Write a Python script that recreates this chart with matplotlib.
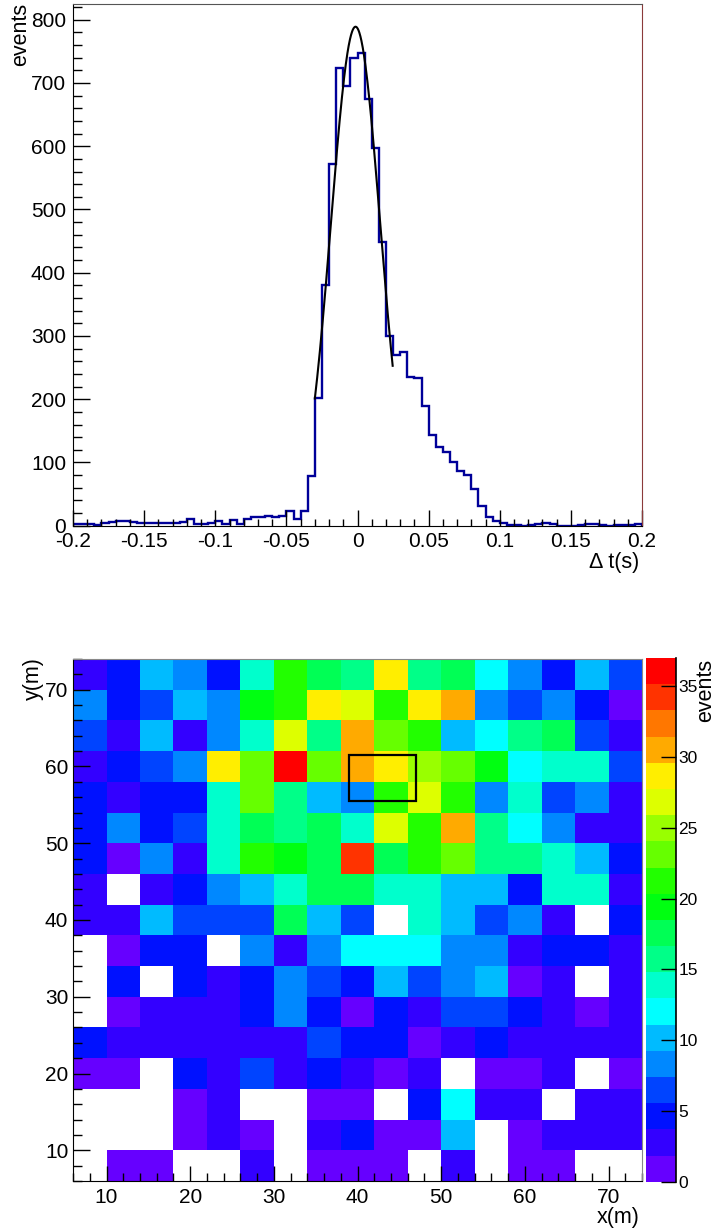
import matplotlib
matplotlib.use('Agg')
import matplotlib.pyplot as plt
import numpy as np
from matplotlib.colors import ListedColormap, BoundaryNorm
from matplotlib.ticker import MultipleLocator, FuncFormatter
from matplotlib.patches import Rectangle

plt.rcParams['font.family'] = ['Liberation Sans', 'DejaVu Sans']
plt.rcParams['axes.unicode_minus'] = False

#-------------------------------
#   top: time difference histogram
#-------------------------------
dt_lo, dt_hi, n_bins = -0.2, 0.2, 80
dt_counts = [2, 2, 2, 1, 5, 6, 8, 8, 6, 4,
             4, 4, 4, 5, 5, 6, 11, 2, 3, 5,
             8, 3, 9, 3, 10, 13, 14, 16, 13, 15,
             24, 10, 24, 78, 202, 380, 572, 723, 695, 740,
             748, 674, 598, 449, 300, 270, 274, 235, 234, 189,
             144, 124, 117, 100, 87, 80, 58, 31, 13, 8,
             4, 1, 1, 0, 1, 3, 4, 2, 0, 0,
             0, 1, 2, 2, 1, 0, 1, 1, 1, 3]
# gaussian fit (amplitude, mean, sigma) and fit range
fit_amp, fit_mean, fit_sigma = 789.0, -0.0014, 0.0173
fit_lo, fit_hi = -0.030, 0.0247

#-------------------------------
#   bottom: event map, rows listed from top (y=70-74) to bottom (y=6-10)
#-------------------------------
x_lo, x_hi, cell = 6, 74, 4
map_counts = [
    [3, 5, 10, 8, 5, 14, 21, 18, 16, 29, 16, 18, 12, 8, 5, 10, 7],
    [8, 5, 7, 10, 8, 19, 21, 29, 27, 21, 29, 30, 8, 7, 8, 5, 1],
    [7, 3, 10, 3, 8, 14, 27, 16, 30, 23, 21, 10, 12, 16, 18, 7, 3],
    [3, 5, 7, 8, 29, 23, 36, 23, 30, 29, 25, 23, 19, 12, 14, 14, 7],
    [5, 3, 5, 5, 14, 23, 16, 10, 8, 21, 27, 21, 8, 14, 7, 8, 3],
    [5, 8, 5, 7, 14, 18, 16, 18, 14, 27, 21, 30, 16, 12, 8, 3, 3],
    [5, 1, 8, 3, 14, 21, 19, 18, 34, 18, 21, 23, 16, 16, 14, 10, 5],
    [3, 0, 3, 5, 8, 10, 14, 18, 18, 14, 14, 10, 10, 5, 14, 14, 3],
    [3, 3, 10, 7, 7, 7, 18, 10, 7, 0, 14, 10, 7, 8, 3, 0, 5],
    [0, 1, 5, 5, 0, 8, 3, 8, 12, 12, 12, 8, 8, 3, 5, 5, 3],
    [0, 5, 0, 5, 3, 5, 8, 7, 5, 10, 7, 8, 10, 1, 3, 0, 3],
    [0, 1, 3, 3, 3, 5, 8, 5, 1, 5, 3, 7, 7, 5, 3, 1, 3],
    [5, 3, 3, 3, 3, 3, 3, 7, 5, 5, 1, 3, 5, 3, 3, 3, 3],
    [1, 1, 0, 5, 3, 7, 3, 5, 3, 1, 3, 0, 1, 1, 3, 0, 1],
    [0, 0, 0, 1, 3, 0, 0, 1, 1, 0, 5, 12, 3, 3, 0, 3, 3],
    [0, 0, 0, 1, 3, 1, 0, 3, 5, 1, 1, 10, 0, 1, 3, 3, 3],
    [0, 1, 1, 0, 0, 3, 0, 1, 1, 1, 0, 3, 0, 1, 1, 0, 0],
]
box_x, box_y, box_w, box_h = 39, 55.5, 8, 6
z_max = 37
palette = ['#6600ff', '#3300ff', '#0011ff', '#0044ff', '#0088ff',
           '#00bbff', '#00ffff', '#00ffcc', '#00ff88', '#00ff55',
           '#00ff11', '#22ff00', '#66ff00', '#99ff00', '#ddff00',
           '#ffee00', '#ffaa00', '#ff7700', '#ff3300', '#ff0000']

fig = plt.figure(figsize=(7.16, 12.32), dpi=100)

#-------------------------------
#   top panel
#-------------------------------
ax1 = fig.add_axes([0.1020, 0.5733, 0.7947, 0.4235])
edges = np.linspace(dt_lo, dt_hi, n_bins + 1)
ax1.stairs(dt_counts, edges, color='#000099', lw=1.7)
xf = np.linspace(fit_lo, fit_hi, 300)
ax1.plot(xf, fit_amp * np.exp(-0.5 * ((xf - fit_mean) / fit_sigma) ** 2),
         color='k', lw=1.5)
ax1.set_xlim(dt_lo, dt_hi)
ax1.set_ylim(0, 825)
ax1.xaxis.set_major_locator(MultipleLocator(0.05))
ax1.xaxis.set_minor_locator(MultipleLocator(0.01))
ax1.yaxis.set_major_locator(MultipleLocator(100))
ax1.yaxis.set_minor_locator(MultipleLocator(20))
ax1.xaxis.set_major_formatter(FuncFormatter(lambda v, p: '%g' % (round(v, 3) + 0.0)))
ax1.tick_params(which='both', direction='in', top=False, right=False,
                labelsize=15, width=1)
ax1.tick_params(axis='y', which='major', length=12.2, pad=5)
ax1.tick_params(axis='y', which='minor', length=6.2)
ax1.tick_params(axis='x', which='major', length=11.2, pad=4.5)
ax1.tick_params(axis='x', which='minor', length=5.4)
ax1.spines['top'].set_color('#555555')
ax1.spines['right'].set_color('#8b3a3a')
fig.text(20.5 / 716, 1 - 3 / 1232, 'events', rotation=90, ha='center', va='top', fontsize=15.5)
fig.text(639 / 716, 1 - 562 / 1232, 'Δ t(s)', ha='right', va='center', fontsize=15.5)

#-------------------------------
#   bottom panel
#-------------------------------
ax2 = fig.add_axes([0.1020, 0.0414, 0.7947, 0.4237])
x_edges = np.arange(x_lo, x_hi + 1, cell)
y_edges = np.arange(x_lo, x_hi + 1, cell)
z = np.ma.masked_equal(np.array(map_counts, dtype=float)[::-1], 0)
cmap = ListedColormap(palette)
cmap.set_bad('white')
norm = BoundaryNorm(np.linspace(0, z_max, len(palette) + 1), len(palette))
mesh = ax2.pcolormesh(x_edges, y_edges, z, cmap=cmap, norm=norm)
ax2.add_patch(Rectangle((box_x, box_y), box_w, box_h, fill=False,
                        ec='k', lw=1.6, zorder=3))
ax2.set_xlim(x_lo, x_hi)
ax2.set_ylim(x_lo, x_hi)
for a in (ax2.xaxis, ax2.yaxis):
    a.set_major_locator(MultipleLocator(10))
    a.set_minor_locator(MultipleLocator(2))
ax2.tick_params(which='both', direction='in', top=False, right=False,
                labelsize=15, width=1)
ax2.tick_params(axis='y', which='major', length=12.2, pad=3.4)
ax2.tick_params(axis='y', which='minor', length=6.2)
ax2.tick_params(axis='x', which='major', length=11, pad=5)
ax2.tick_params(axis='x', which='minor', length=5.5)
ax2.spines['top'].set_color('#888888')
ax2.spines['right'].set_color('#888888')
fig.text(33 / 716, 1 - 657 / 1232, 'y(m)', rotation=90, ha='center', va='top', fontsize=15.5)
fig.text(640 / 716, 1 - 1217 / 1232, 'x(m)', ha='right', va='center', fontsize=15.5)

# colour scale
cax = fig.add_axes([0.9022, 0.0408, 0.0426, 0.4251])
cb = fig.colorbar(mesh, cax=cax, ticks=range(0, 36, 5))
cb.outline.set_visible(False)
cb.minorticks_off()
cax.tick_params(direction='in', length=11, width=1, labelsize=12.5, pad=1.5)
cax.axvline(1, color='k', lw=1.2, clip_on=False)
fig.text(706 / 716, 1 - 659 / 1232, 'events', rotation=90, ha='center', va='top', fontsize=15.5)

plt.savefig('out.png', dpi=100)
